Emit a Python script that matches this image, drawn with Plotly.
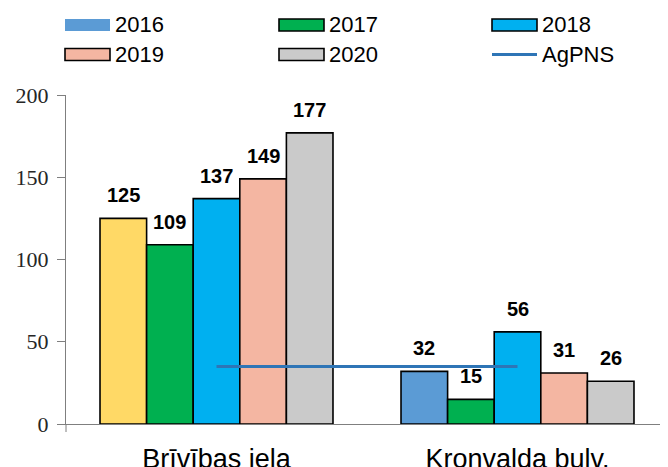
import plotly.graph_objects as go

categories = ["Brīvības iela", "Kronvalda bulv."]
series_names = ["2016", "2017", "2018", "2019", "2020"]
values_2016 = [125, 32]
values_2017 = [109, 15]
values_2018 = [137, 56]
values_2019 = [149, 31]
values_2020 = [177, 26]
agpns_value = [35, 35]
y_ticks = [0, 50, 100, 150, 200]

series_values = [values_2016, values_2017, values_2018, values_2019, values_2020]
series_colors = ["#5B9BD5", "#00B050", "#00B0F0", "#F4B6A2", "#CACACA"]
first_bar_color = "#FFD966"  # Brīvības iela 2016 bar is drawn yellow
line_color = "#2E75B6"

W, H = 668, 467
OFF = 8  # default page body margin
ML, MR, MT, MB = 66 - OFF, OFF, 95 - OFF, 43 + OFF
BARGAP = 0.226
plot_w = W - ML - MR
plot_h = H - MT - MB

fig = go.Figure()
for i, (name, vals, col) in enumerate(zip(series_names, series_values, series_colors)):
    colors = [col] * len(categories)
    if i == 0:
        colors[0] = first_bar_color
    fig.add_trace(go.Bar(
        x=categories, y=vals, name=name,
        marker=dict(color=colors, line=dict(color="#000000", width=1.6)),
        showlegend=False, hoverinfo="x+y+name",
    ))

fig.add_trace(go.Scatter(
    x=categories, y=agpns_value, name="AgPNS", mode="lines",
    line=dict(color=line_color, width=3), showlegend=False,
))

# data labels above bars
n = len(series_names)
cat_px = plot_w / len(categories)
bar_px = cat_px * (1 - BARGAP) / n
annotations = []
for i, vals in enumerate(series_values):
    for j, v in enumerate(vals):
        annotations.append(dict(
            x=categories[j], y=v, xref="x", yref="y",
            text="<b>%d</b>" % v, showarrow=False,
            xshift=(i - (n - 1) / 2) * bar_px,
            yanchor="bottom", yshift=10,
            font=dict(family="Liberation Sans, Arial", size=20, color="#000000"),
        ))

# custom legend (3 columns x 2 rows); positions given in page pixels
legend_items = [(nm, c) for nm, c in zip(series_names, series_colors)] + [("AgPNS", line_color)]
col_x = [65, 279, 492]
row_y = [25, 54.5]
shapes = []
def px_to_paper_x(px):
    return (px - OFF - ML) / plot_w
def px_to_paper_y(py):
    return (H - MB - (py - OFF)) / plot_h

for k, (nm, c) in enumerate(legend_items):
    r, cidx = divmod(k, 3)
    x0 = col_x[cidx]
    yc = row_y[r]
    if nm == "AgPNS":
        shapes.append(dict(type="line", xref="paper", yref="paper",
                           x0=px_to_paper_x(x0), x1=px_to_paper_x(x0 + 45),
                           y0=px_to_paper_y(yc), y1=px_to_paper_y(yc),
                           line=dict(color=c, width=3)))
    else:
        shapes.append(dict(type="rect", xref="paper", yref="paper",
                           x0=px_to_paper_x(x0), x1=px_to_paper_x(x0 + 45),
                           y0=px_to_paper_y(yc - 6), y1=px_to_paper_y(yc + 6),
                           fillcolor=c,
                           line=dict(color="#000000" if k > 0 else c, width=1.6 if k > 0 else 0)))
    annotations.append(dict(
        x=px_to_paper_x(x0 + 48), y=px_to_paper_y(yc), xref="paper", yref="paper",
        text=nm, showarrow=False, xanchor="left", yanchor="middle",
        font=dict(family="Liberation Sans, Arial", size=22, color="#000000"),
    ))

# y-axis line extending slightly below zero
shapes.append(dict(type="line", xref="paper", yref="paper",
                   x0=0, x1=0, y0=0, y1=-8 / plot_h,
                   line=dict(color="#7F7F7F", width=1)))

fig.update_layout(
    width=W, height=H,
    margin=dict(l=ML, r=MR, t=MT, b=MB, autoexpand=False),
    paper_bgcolor="#FFFFFF", plot_bgcolor="#FFFFFF",
    barmode="group", bargap=BARGAP, bargroupgap=0,
    showlegend=False,
    annotations=annotations, shapes=shapes,
    xaxis=dict(
        type="category", showline=True, linecolor="#7F7F7F", linewidth=1,
        ticks="", showgrid=False, zeroline=False, automargin=False,
        tickfont=dict(family="Liberation Sans, Arial", size=27, color="#000000"),
        ticklabelstandoff=11,
    ),
    yaxis=dict(
        range=[0, 200], tickvals=y_ticks, ticktext=[str(t) for t in y_ticks],
        showline=True, linecolor="#7F7F7F", linewidth=1,
        ticks="outside", ticklen=8, tickcolor="#7F7F7F",
        showgrid=False, zeroline=False, automargin=False,
        tickfont=dict(family="Liberation Serif, Times New Roman", size=22, color="#262626"),
        ticklabelstandoff=4,
    ),
)

fig.write_html("out.html")
